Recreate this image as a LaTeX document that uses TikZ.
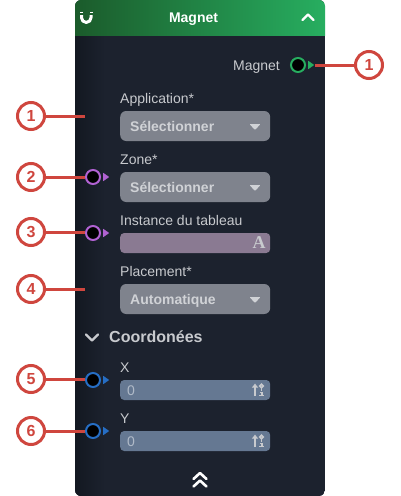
\documentclass[tikz,border=0pt]{standalone}
\usepackage{fontspec}
\setmainfont{Liberation Sans}
\usetikzlibrary{positioning, calc, arrows.meta, shapes.geometric}
\definecolor{panelbg}{RGB}{28,34,46}
\definecolor{paneldark}{RGB}{19,24,33}
\definecolor{headdark}{RGB}{27,91,43}
\definecolor{headlight}{RGB}{39,174,96}
\definecolor{labelgray}{RGB}{200,202,206}
\definecolor{selectgray}{RGB}{127,131,141}
\definecolor{selecttext}{RGB}{208,210,214}
\definecolor{instancepurple}{RGB}{138,122,146}
\definecolor{numberblue}{RGB}{101,120,146}
\definecolor{numbertext}{RGB}{176,186,200}
\definecolor{badgered}{RGB}{207,70,62}
\definecolor{portgreen}{RGB}{39,174,96}
\definecolor{portpurple}{RGB}{177,98,210}
\definecolor{portblue}{RGB}{38,110,196}
\tikzset{
    badge/.style={circle, draw=badgered, line width=3pt, fill=white, minimum size=27pt, inner sep=0pt, text=badgered, font=\fontsize{16}{16}\selectfont\bfseries},
    port/.style={circle, line width=2pt, fill=black, minimum size=14pt, inner sep=0pt},
    porttip/.style={isosceles triangle, isosceles triangle apex angle=70, minimum height=6pt, minimum width=7pt, inner sep=0pt, fill=#1},
    leader/.style={draw=badgered, line width=3pt},
    fieldlabel/.style={anchor=base west, inner sep=0pt, text=labelgray, font=\fontsize{14}{16}\selectfont},
    selectbox/.style={anchor=west, rounded corners=6pt, fill=selectgray, minimum width=150pt, minimum height=30pt, inner sep=0pt},
    selecttxt/.style={anchor=base west, inner sep=0pt, text=selecttext, font=\fontsize{14}{16}\selectfont\bfseries},
    inputbox/.style={anchor=west, rounded corners=4pt, fill=#1, minimum width=150pt, minimum height=20pt, inner sep=0pt},
    icon/.style={draw=white, line width=2.3pt, line cap=round, line join=round}
}
\begin{document}
\begin{tikzpicture}[x=1pt, y=-1pt]
    \useasboundingbox (0,0) rectangle (400,496);
    \fill[white] (0,0) rectangle (400,496);

    % Panel and header
    \begin{scope}
        \clip[rounded corners=6pt] (75,0) rectangle (325,496);
        \fill[panelbg] (75,0) rectangle (325,496);
        \shade[left color=paneldark, right color=panelbg] (75,35) rectangle (105,496);
        \shade[left color=headdark, right color=headlight] (75,0) rectangle (325,35);
    \end{scope}
    \node[anchor=base, inner sep=0pt, text=white, font=\fontsize{14}{16}\selectfont\bfseries] (title) at (193.5,22) {Magnet};

    % Header icons
    \draw[icon, line width=3pt, line cap=butt] (81.5,15) -- (81.5,17.7) arc[start angle=180, end angle=0, radius=4.75] -- (91,15);
    \draw[icon, line width=3pt, line cap=butt] (81.5,11.7) -- (81.5,13.4) (91,11.7) -- (91,13.4);
    \draw[icon] (302.5,20) -- (308,14.5) -- (313.5,20);

    % Output port
    \node[fieldlabel, anchor=base east] (magnetlabel) at (280,70) {Magnet};
    \node[port, draw=portgreen] (portm) at (298,65) {};
    \node[porttip=portgreen, right=2pt of portm] (tipm) {};

    % Fields
    \node[fieldlabel] (applabel) at (120,103) {Application*};
    \node[selectbox] (appbox) at (120,126) {};
    \node[selecttxt] (apptxt) at (130,131) {Sélectionner};
    \node[fieldlabel] (zonelabel) at (120,164) {Zone*};
    \node[selectbox] (zonebox) at (120,187) {};
    \node[selecttxt] (zonetxt) at (130,192) {Sélectionner};
    \node[fieldlabel] (instlabel) at (120,225) {Instance du tableau};
    \node[inputbox=instancepurple] (instbox) at (120,243) {};
    \node[inner sep=0pt, text=labelgray, font=\fontsize{18}{18}\selectfont\bfseries] (instA) at (259,242.5) {\fontspec{Liberation Serif}[BoldFont={* Bold}]A};
    \node[fieldlabel] (placelabel) at (120,276) {Placement*};
    \node[selectbox] (placebox) at (120,299) {};
    \node[selecttxt] (placetxt) at (130,304) {Automatique};

    % Select arrows
    \foreach \y in {126,187,299} {
        \fill[selecttext, rounded corners=0.8pt] (249.5,\y-2) -- (260.5,\y-2) -- (255,\y+4) -- cycle;
    }

    % Section
    \draw[draw=labelgray, line width=2.2pt, line cap=round, line join=round] (86,334.5) -- (92,340.5) -- (98,334.5);
    \node[fieldlabel, font=\fontsize{16}{18}\selectfont\bfseries] (coordlabel) at (109,342.5) {Coordonées};

    % Number inputs
    \node[fieldlabel] (xlabel) at (120,372) {X};
    \node[inputbox=numberblue] (xbox) at (120,390) {};
    \node[fieldlabel, text=numbertext] (xval) at (127,395) {0};
    \node[fieldlabel] (ylabel) at (120,423) {Y};
    \node[inputbox=numberblue] (ybox) at (120,441) {};
    \node[fieldlabel, text=numbertext] (yval) at (127,446) {0};
    \foreach \y in {390,441} {
        \draw[labelgray, line width=1.8pt, -{Latex[length=4pt,width=7pt]}] (255,\y+6) -- (255,\y-6.5);
        \draw[labelgray, line width=1.5pt] (261.5,\y-4) circle[radius=1.8];
        \draw[labelgray, line width=1.8pt] (261.5,\y-2) -- (261.5,\y+0.5);
        \draw[labelgray, line width=1.5pt] (259.8,\y+2.5) -- (261.8,\y+2.5) -- (261.8,\y+5.5);
        \draw[labelgray, line width=1.5pt] (259.3,\y+5.5) -- (264,\y+5.5);
    }

    % Bottom chevrons
    \draw[icon, line width=2.6pt] (193.5,479) -- (200,473) -- (206.5,479);
    \draw[icon, line width=2.6pt] (193.5,486.5) -- (200,480.5) -- (206.5,486.5);

    % Input ports
    \node[port, draw=portpurple] (portz) at (93,177) {};
    \node[porttip=portpurple, right=2pt of portz] (tipz) {};
    \node[port, draw=portpurple] (porti) at (93,233) {};
    \node[porttip=portpurple, right=2pt of porti] (tipi) {};
    \node[port, draw=portblue] (portx) at (93,380) {};
    \node[porttip=portblue, right=2pt of portx] (tipx) {};
    \node[port, draw=portblue] (porty) at (93,431) {};
    \node[porttip=portblue, right=2pt of porty] (tipy) {};

    % Badges
    \node[badge] (badgem) at (369,65) {1};
    \node[badge] (badgea) at (31,116) {1};
    \node[badge] (badgez) at (31,177) {2};
    \node[badge] (badgei) at (31,232) {3};
    \node[badge] (badgep) at (31,289) {4};
    \node[badge] (badgex) at (31,379) {5};
    \node[badge] (badgey) at (31,431) {6};
    \coordinate (enda) at (85,116);
    \coordinate (endp) at (85,289);

    % Leaders
    \draw[leader] (badgem) -- (tipm.east);
    \draw[leader] (badgea) -- (enda);
    \draw[leader] (badgep) -- (endp);
    \foreach \a/\b in {badgez/portz, badgei/porti, badgex/portx, badgey/porty} {
        \draw[leader] (\a) -- (\a -| \b.west);
    }
\end{tikzpicture}
\end{document}
